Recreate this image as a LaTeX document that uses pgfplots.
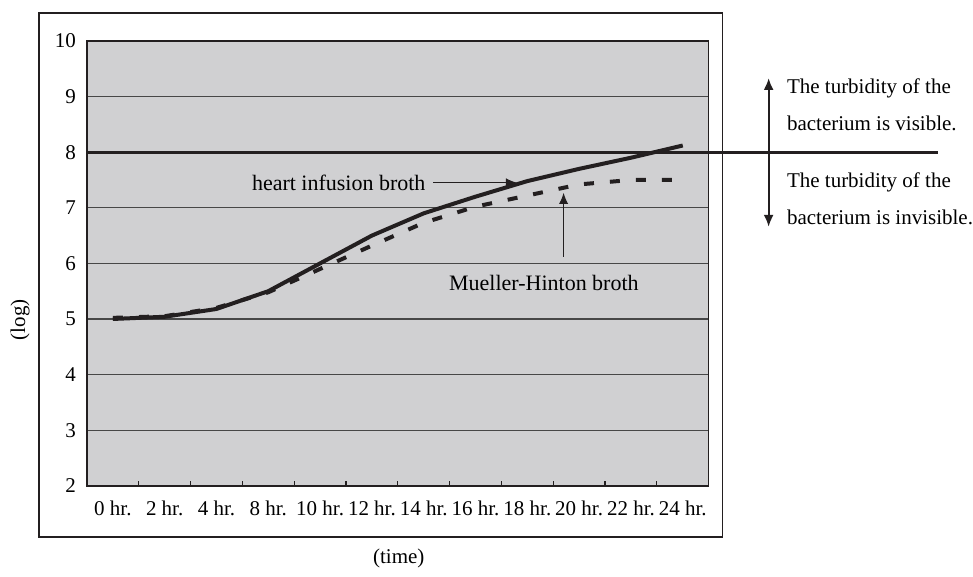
\documentclass[border=0pt]{standalone}
\usepackage{fontspec}
\setmainfont{Liberation Serif}
\usepackage{pgfplots}
\pgfplotsset{compat=1.18}
\usetikzlibrary{arrows.meta}
\definecolor{bggray}{RGB}{208,208,210}
\definecolor{ink}{RGB}{35,31,32}
\begin{document}
\begin{tikzpicture}[font=\fontsize{10.5}{12.6}\selectfont]
\path (0pt,0pt) rectangle (486.5pt,-288.5pt);
\draw[ink, line width=0.8pt] (19.5pt,-6.5pt) rectangle (361.5pt,-268.5pt);
\begin{axis}[
  scale only axis, width=311pt, height=222.5pt,
  at={(43.5pt,-243pt)}, anchor=south west,
  xmin=-0.5, xmax=11.5, ymin=2, ymax=10,
  xtick={0,...,11},
  xticklabels={0 hr.,2 hr.,4 hr.,8 hr.,10 hr.,12 hr.,14 hr.,16 hr.,18 hr.,20 hr.,22 hr.,24 hr.},
  minor xtick={0.5,1.5,...,10.5},
  ytick={2,...,10},
  major tick length=0pt, minor tick length=2.5pt,
  minor tick style={ink, line width=0.6pt},
  tick pos=left, tick align=inside,
  ymajorgrids, major grid style={black!72, line width=0.6pt},
  axis background/.style={fill=bggray},
  axis line style={ink, line width=0.8pt},
  tick label style={font=\fontsize{10.5}{12.6}\selectfont},
  /pgf/number format/assume math mode=true,
  xticklabel style={yshift=-4pt},
  yticklabel style={xshift=-2pt},
  clip=false,
]
\addplot[ink, line width=2pt] coordinates {
 (0,5.0) (1,5.04) (2,5.18) (3,5.5) (4,6.0) (5,6.5) (6,6.9) (7,7.2) (8,7.48) (9,7.7) (10,7.9) (11,8.12)};
\addplot[ink, line width=2pt, dash pattern=on 5pt off 8pt] coordinates {
 (0,5.02) (1,5.05) (2,5.2) (3,5.48) (4,5.9) (5,6.32) (6,6.73) (7,7.02) (8,7.22) (9,7.42) (10,7.5) (11,7.5)};
\draw[ink, line width=1.6pt] (axis cs:-0.5,8) -- (axis cs:15.92,8);
\draw[ink, line width=0.5pt, -{Latex[length=5.5pt,width=4.5pt]}] (axis cs:6.18,7.45) -- (axis cs:7.80,7.45);
\node[anchor=east, inner sep=1pt, font=\fontsize{11}{13}\selectfont] at (axis cs:6.08,7.45) {heart infusion broth};
\draw[ink, line width=0.5pt, -{Latex[length=5.5pt,width=4.5pt]}] (axis cs:8.70,6.12) -- (axis cs:8.70,7.27);
\node[inner sep=0pt, font=\fontsize{11}{13}\selectfont] at (axis cs:8.32,5.65) {Mueller-Hinton broth};
\end{axis}
\draw[ink, line width=1.1pt, {Latex[length=6pt,width=5pt]}-{Latex[length=6pt,width=5pt]}] (384.5pt,-39pt) -- (384.5pt,-113.5pt);
\node[anchor=west, inner sep=0pt] at (393.5pt,-44pt) {The turbidity of the};
\node[anchor=west, inner sep=0pt] at (393.5pt,-61.5pt) {bacterium is visible.};
\node[anchor=west, inner sep=0pt] at (393.5pt,-91pt) {The turbidity of the};
\node[anchor=west, inner sep=0pt] at (393.5pt,-108.5pt) {bacterium is invisible.};
\node[rotate=90] at (10pt,-160pt) {(log)};
\node at (199.5pt,-279.5pt) {(time)};
\end{tikzpicture}
\end{document}
